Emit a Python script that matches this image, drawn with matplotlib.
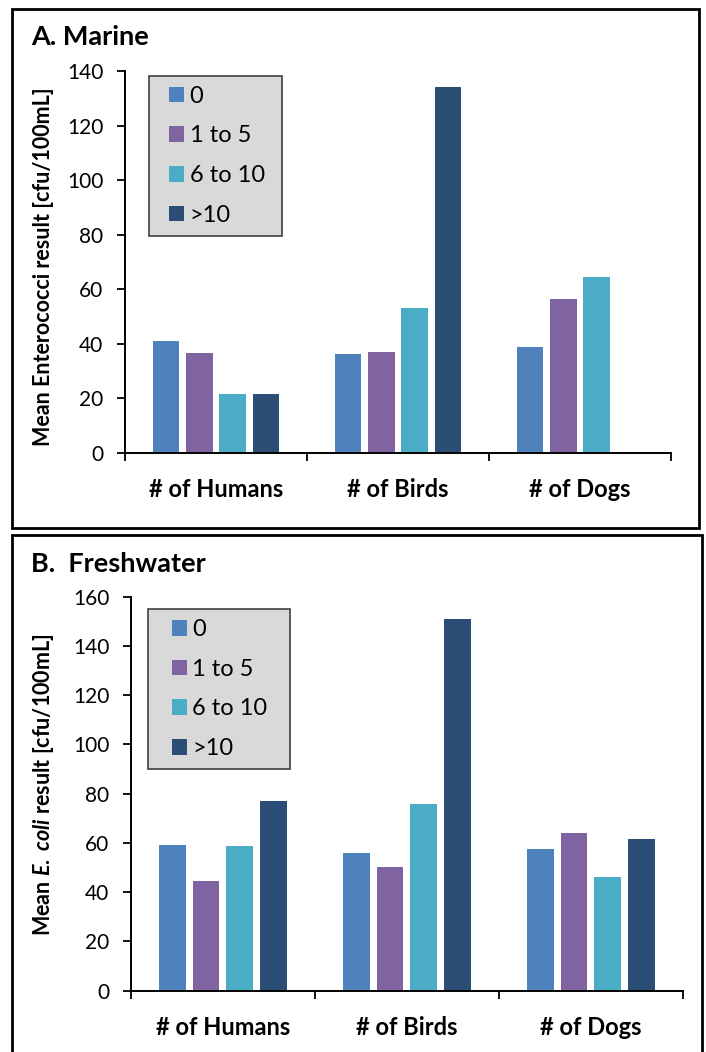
import numpy as np
import matplotlib
matplotlib.use("Agg")
import matplotlib.pyplot as plt
from matplotlib.patches import Patch, Rectangle
from matplotlib.legend_handler import HandlerPatch

plt.rcParams['font.family'] = ['Lato', 'DejaVu Sans']
plt.rcParams['mathtext.fontset'] = 'custom'
plt.rcParams['mathtext.rm'] = 'Lato:bold'
plt.rcParams['mathtext.it'] = 'Lato:bold:italic'

# ---- data ----
categories = ['# of Humans', '# of Birds', '# of Dogs']
groups = ['0', '1 to 5', '6 to 10', '>10']
colors = ['#4F81BD', '#8064A2', '#4BACC6', '#2C4D75']

marine = [
    [40.8, 36.2, 38.7],      # 0
    [36.6, 37.0, 56.3],      # 1 to 5
    [21.5, 53.1, 64.3],      # 6 to 10
    [21.5, 134.3, np.nan],   # >10 (no dogs bar)
]
fresh = [
    [59.1, 55.9, 57.5],
    [44.5, 50.2, 64.0],
    [58.7, 75.8, 46.1],
    [77.0, 151.1, 61.6],
]

W, H = 706, 1052
fig = plt.figure(figsize=(W / 100, H / 100), dpi=100)


def px(x0, y0, x1, y1):
    # image pixel box -> figure fraction rect
    return [x0 / W, 1 - y1 / H, (x1 - x0) / W, (y1 - y0) / H]


def square_handle(legend, orig_handle, xdescent, ydescent, width, height, fontsize):
    return Rectangle((-xdescent + width - height, -ydescent), height, height)


def draw_panel(rect, values, ymax, ylab, ylab_y, title, title_y, leg_box, hlen):
    ax = fig.add_axes(px(*rect))
    x = np.arange(len(categories))
    bw, pitch = 0.145, 0.183
    for i, vals in enumerate(values):
        ax.bar(x + (i - 1.5) * pitch, vals, width=bw, color=colors[i], label=groups[i])
    ax.set_xlim(-0.5, len(categories) - 0.5)
    ax.set_ylim(0, ymax)
    ax.set_yticks(np.arange(0, ymax + 1, 20))
    ax.set_xticks([-0.5, 0.5, 1.5, 2.5])
    ax.set_xticklabels([])
    ax.set_xticks(x, minor=True)
    ax.set_xticklabels(categories, minor=True, fontsize=17, fontweight='bold')
    ax.tick_params(axis='x', which='minor', length=0, pad=18)
    ax.tick_params(axis='x', which='major', length=6, width=1.3, direction='out')
    ax.tick_params(axis='y', length=5.5, width=1.3, direction='out', labelsize=15, pad=10)
    for s in ['top', 'right']:
        ax.spines[s].set_visible(False)
    for s in ['left', 'bottom']:
        ax.spines[s].set_linewidth(1.4)

    fig.text(44 / W, 1 - ylab_y / H, ylab, rotation=90, ha='center', va='center',
             fontsize=15.5, fontweight='bold')
    fig.text(31 / W, 1 - title_y / H, title, ha='left', va='baseline',
             fontsize=19.5, fontweight='bold')

    handles = [Patch(facecolor=c) for c in colors]
    x0, y0, x1, y1 = leg_box
    leg = ax.legend(handles, groups, loc='upper left',
                    bbox_to_anchor=(x0 / W, 1 - y0 / H, (x1 - x0) / W, 0.001),
                    bbox_transform=fig.transFigure, mode='expand', borderaxespad=0,
                    fontsize=17, labelspacing=0.79, borderpad=0.43,
                    handlelength=hlen, handleheight=0.64, handletextpad=0.22,
                    fancybox=False, framealpha=1,
                    handler_map={Patch: HandlerPatch(patch_func=square_handle)})
    leg.get_frame().set_facecolor('#D9D9D9')
    leg.get_frame().set_edgecolor('#404040')
    leg.get_frame().set_linewidth(1.2)
    return ax


draw_panel((125, 71, 671, 452.5), marine, 140,
           'Mean Enterococci result [cfu/100mL]', 267, 'A. Marine', 45,
           (149.3, 76.7, 282.3, 238.3), 1.06)
draw_panel((130.7, 596.7, 682.7, 990.7), fresh, 160,
           r'Mean $\mathit{E.\ coli}$ result [cfu/100mL]', 785, 'B.  Freshwater', 571.7,
           (148.3, 610, 290, 772), 1.22)

# panel frames
for box in [(11.7, 9, 699, 528), (11.7, 535, 701.7, 1065)]:
    fig.patches.append(Rectangle(px(*box)[:2], px(*box)[2], px(*box)[3],
                                 transform=fig.transFigure, fill=False,
                                 edgecolor='black', linewidth=2))

fig.savefig('out.png', dpi=100)
